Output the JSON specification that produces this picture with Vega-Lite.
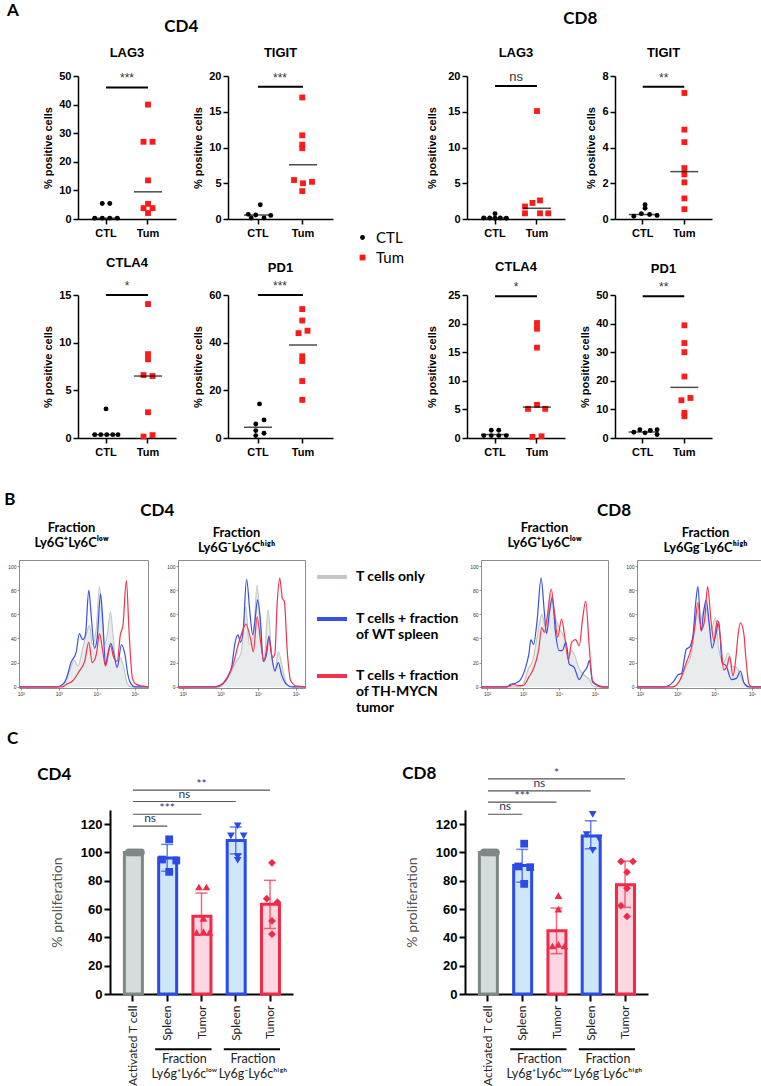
{
"$schema":"https://vega.github.io/schema/vega-lite/v6.json",
"background":"white",
"padding":{"left":4,"top":2,"right":0,"bottom":0},
"config":{
 "view":{"stroke":null},
 "font":"Liberation Sans",
 "title":{"font":"Lato","fontWeight":"bold","color":"black","baseline":"bottom"},
 "axis":{"grid":false,"labelOverlap":false,"domainColor":"black","domainWidth":1.5,"tickColor":"black","tickWidth":1.5,"tickSize":5,"labelColor":"black","labelFont":"Liberation Sans","labelFontWeight":"bold","labelFontSize":11,"titleFont":"Liberation Sans","titleFontWeight":"bold","titleFontSize":11,"titleColor":"black","labelPadding":2,"titlePadding":5},
 "axisQuantitative":{"tickCount":20},
 "legend":{"padding":0}
},
"resolve":{"scale":{"color":"independent","stroke":"independent","fill":"independent","shape":"independent","size":"independent"}},
"columns":1,"spacing":33,
"datasets":{
"dots":[
{"panel":"CD4 LAG3","group":"CTL","value":5.4,"col":-0.5},{"panel":"CD4 LAG3","group":"CTL","value":5.4,"col":0.5},{"panel":"CD4 LAG3","group":"CTL","value":0.3,"col":-1.5},{"panel":"CD4 LAG3","group":"CTL","value":0.3,"col":-0.5},{"panel":"CD4 LAG3","group":"CTL","value":0.3,"col":0.5},{"panel":"CD4 LAG3","group":"CTL","value":0.3,"col":1.5},
{"panel":"CD4 LAG3","group":"Tum","value":40,"col":0},{"panel":"CD4 LAG3","group":"Tum","value":27,"col":-0.6},{"panel":"CD4 LAG3","group":"Tum","value":27,"col":0.6},{"panel":"CD4 LAG3","group":"Tum","value":13.5,"col":0},{"panel":"CD4 LAG3","group":"Tum","value":5.3,"col":0},{"panel":"CD4 LAG3","group":"Tum","value":3.8,"col":-0.6},{"panel":"CD4 LAG3","group":"Tum","value":3.8,"col":0.6},{"panel":"CD4 LAG3","group":"Tum","value":2.1,"col":0},
{"panel":"CD4 TIGIT","group":"CTL","value":2.0,"col":0.4},{"panel":"CD4 TIGIT","group":"CTL","value":0.65,"col":-1.2},{"panel":"CD4 TIGIT","group":"CTL","value":0.55,"col":-0.2},{"panel":"CD4 TIGIT","group":"CTL","value":0.5,"col":1.8},{"panel":"CD4 TIGIT","group":"CTL","value":0.15,"col":-0.8},{"panel":"CD4 TIGIT","group":"CTL","value":0.15,"col":0.9},
{"panel":"CD4 TIGIT","group":"Tum","value":17,"col":0},{"panel":"CD4 TIGIT","group":"Tum","value":11.7,"col":0},{"panel":"CD4 TIGIT","group":"Tum","value":10.4,"col":0},{"panel":"CD4 TIGIT","group":"Tum","value":9.9,"col":0},{"panel":"CD4 TIGIT","group":"Tum","value":5.45,"col":-1.1},{"panel":"CD4 TIGIT","group":"Tum","value":5.0,"col":0.1},{"panel":"CD4 TIGIT","group":"Tum","value":5.2,"col":1.3},{"panel":"CD4 TIGIT","group":"Tum","value":3.9,"col":0},
{"panel":"CD8 LAG3","group":"CTL","value":0.75,"col":0},{"panel":"CD8 LAG3","group":"CTL","value":0.15,"col":-1.5},{"panel":"CD8 LAG3","group":"CTL","value":0.15,"col":-0.7},{"panel":"CD8 LAG3","group":"CTL","value":0.15,"col":0.7},{"panel":"CD8 LAG3","group":"CTL","value":0.1,"col":1.5},{"panel":"CD8 LAG3","group":"CTL","value":0.1,"col":0},
{"panel":"CD8 LAG3","group":"Tum","value":15.1,"col":0},{"panel":"CD8 LAG3","group":"Tum","value":2.6,"col":0.4},{"panel":"CD8 LAG3","group":"Tum","value":2.25,"col":-0.6},{"panel":"CD8 LAG3","group":"Tum","value":1.75,"col":-1.6},{"panel":"CD8 LAG3","group":"Tum","value":0.8,"col":-1.6},{"panel":"CD8 LAG3","group":"Tum","value":0.8,"col":0.4},{"panel":"CD8 LAG3","group":"Tum","value":0.8,"col":1.5},
{"panel":"CD8 TIGIT","group":"CTL","value":0.8,"col":0.3},{"panel":"CD8 TIGIT","group":"CTL","value":0.6,"col":0.3},{"panel":"CD8 TIGIT","group":"CTL","value":0.3,"col":-0.2},{"panel":"CD8 TIGIT","group":"CTL","value":0.25,"col":0.9},{"panel":"CD8 TIGIT","group":"CTL","value":0.15,"col":-1.2},{"panel":"CD8 TIGIT","group":"CTL","value":0.2,"col":1.9},
{"panel":"CD8 TIGIT","group":"Tum","value":7.05,"col":0},{"panel":"CD8 TIGIT","group":"Tum","value":5.0,"col":0},{"panel":"CD8 TIGIT","group":"Tum","value":4.3,"col":0},{"panel":"CD8 TIGIT","group":"Tum","value":2.85,"col":0},{"panel":"CD8 TIGIT","group":"Tum","value":2.5,"col":0},{"panel":"CD8 TIGIT","group":"Tum","value":2.05,"col":0},{"panel":"CD8 TIGIT","group":"Tum","value":1.15,"col":0},{"panel":"CD8 TIGIT","group":"Tum","value":0.55,"col":0},
{"panel":"CD4 CTLA4","group":"CTL","value":3.05,"col":0},{"panel":"CD4 CTLA4","group":"CTL","value":0.35,"col":-1.5},{"panel":"CD4 CTLA4","group":"CTL","value":0.35,"col":-0.7},{"panel":"CD4 CTLA4","group":"CTL","value":0.35,"col":0.1},{"panel":"CD4 CTLA4","group":"CTL","value":0.35,"col":0.9},{"panel":"CD4 CTLA4","group":"CTL","value":0.35,"col":1.6},
{"panel":"CD4 CTLA4","group":"Tum","value":14.05,"col":0},{"panel":"CD4 CTLA4","group":"Tum","value":8.8,"col":0},{"panel":"CD4 CTLA4","group":"Tum","value":8.25,"col":0},{"panel":"CD4 CTLA4","group":"Tum","value":6.6,"col":-0.6},{"panel":"CD4 CTLA4","group":"Tum","value":6.5,"col":0.6},{"panel":"CD4 CTLA4","group":"Tum","value":2.7,"col":0},{"panel":"CD4 CTLA4","group":"Tum","value":0.15,"col":-0.6},{"panel":"CD4 CTLA4","group":"Tum","value":0.3,"col":0.6},
{"panel":"CD4 PD1","group":"CTL","value":14.3,"col":0.3},{"panel":"CD4 PD1","group":"CTL","value":7.6,"col":0.9},{"panel":"CD4 PD1","group":"CTL","value":5.9,"col":-0.2},{"panel":"CD4 PD1","group":"CTL","value":3.1,"col":-0.2},{"panel":"CD4 PD1","group":"CTL","value":2.0,"col":0.9},{"panel":"CD4 PD1","group":"CTL","value":1.0,"col":-0.2},
{"panel":"CD4 PD1","group":"Tum","value":54.1,"col":0},{"panel":"CD4 PD1","group":"Tum","value":49.3,"col":0},{"panel":"CD4 PD1","group":"Tum","value":45,"col":0.7},{"panel":"CD4 PD1","group":"Tum","value":44,"col":-0.5},{"panel":"CD4 PD1","group":"Tum","value":34.3,"col":0},{"panel":"CD4 PD1","group":"Tum","value":32.3,"col":0},{"panel":"CD4 PD1","group":"Tum","value":23.9,"col":0},{"panel":"CD4 PD1","group":"Tum","value":16,"col":0},
{"panel":"CD8 CTLA4","group":"CTL","value":1.35,"col":-0.5},{"panel":"CD8 CTLA4","group":"CTL","value":1.35,"col":0.5},{"panel":"CD8 CTLA4","group":"CTL","value":0.42,"col":-1.5},{"panel":"CD8 CTLA4","group":"CTL","value":0.42,"col":-0.5},{"panel":"CD8 CTLA4","group":"CTL","value":0.42,"col":0.5},{"panel":"CD8 CTLA4","group":"CTL","value":0.42,"col":1.5},
{"panel":"CD8 CTLA4","group":"Tum","value":20.1,"col":0},{"panel":"CD8 CTLA4","group":"Tum","value":19.1,"col":0},{"panel":"CD8 CTLA4","group":"Tum","value":15.8,"col":0},{"panel":"CD8 CTLA4","group":"Tum","value":5.8,"col":0},{"panel":"CD8 CTLA4","group":"Tum","value":5.1,"col":-1.2},{"panel":"CD8 CTLA4","group":"Tum","value":5.1,"col":1.1},{"panel":"CD8 CTLA4","group":"Tum","value":0.2,"col":-0.6},{"panel":"CD8 CTLA4","group":"Tum","value":0.3,"col":0.6},
{"panel":"CD8 PD1","group":"CTL","value":2.0,"col":-1.2},{"panel":"CD8 PD1","group":"CTL","value":2.9,"col":-0.4},{"panel":"CD8 PD1","group":"CTL","value":1.8,"col":0.3},{"panel":"CD8 PD1","group":"CTL","value":2.6,"col":1.0},{"panel":"CD8 PD1","group":"CTL","value":2.9,"col":1.9},{"panel":"CD8 PD1","group":"CTL","value":1.2,"col":1.9},
{"panel":"CD8 PD1","group":"Tum","value":39.4,"col":0},{"panel":"CD8 PD1","group":"Tum","value":33.2,"col":0},{"panel":"CD8 PD1","group":"Tum","value":30,"col":0},{"panel":"CD8 PD1","group":"Tum","value":21.5,"col":0},{"panel":"CD8 PD1","group":"Tum","value":14,"col":0.8},{"panel":"CD8 PD1","group":"Tum","value":13.2,"col":-0.4},{"panel":"CD8 PD1","group":"Tum","value":8.8,"col":0},{"panel":"CD8 PD1","group":"Tum","value":7.6,"col":0}
],
"med":[
{"panel":"CD4 LAG3","group":"CTL","value":0.3},{"panel":"CD4 LAG3","group":"Tum","value":9.5},
{"panel":"CD4 TIGIT","group":"CTL","value":0.55},{"panel":"CD4 TIGIT","group":"Tum","value":7.6},
{"panel":"CD8 LAG3","group":"CTL","value":0.15},{"panel":"CD8 LAG3","group":"Tum","value":1.5},
{"panel":"CD8 TIGIT","group":"CTL","value":0.25},{"panel":"CD8 TIGIT","group":"Tum","value":2.65},
{"panel":"CD4 CTLA4","group":"CTL","value":0.35},{"panel":"CD4 CTLA4","group":"Tum","value":6.5},
{"panel":"CD4 PD1","group":"CTL","value":4.5},{"panel":"CD4 PD1","group":"Tum","value":39},
{"panel":"CD8 CTLA4","group":"CTL","value":0.6},{"panel":"CD8 CTLA4","group":"Tum","value":5.4},
{"panel":"CD8 PD1","group":"CTL","value":2.1},{"panel":"CD8 PD1","group":"Tum","value":17.7}
],
"asig":[
{"panel":"CD4 LAG3","label":"***","from":"CTL","to":"Tum","value":46},{"panel":"CD4 TIGIT","label":"***","from":"CTL","to":"Tum","value":18.5},
{"panel":"CD8 LAG3","label":"ns","from":"CTL","to":"Tum","value":18.6},{"panel":"CD8 TIGIT","label":"**","from":"CTL","to":"Tum","value":7.4},
{"panel":"CD4 CTLA4","label":"*","from":"CTL","to":"Tum","value":15},{"panel":"CD4 PD1","label":"***","from":"CTL","to":"Tum","value":60},
{"panel":"CD8 CTLA4","label":"*","from":"CTL","to":"Tum","value":24.8},{"panel":"CD8 PD1","label":"**","from":"CTL","to":"Tum","value":49.6}
],
"hist":[
{"panel":"CD4 low","series":"only","x":[1.95,3.0,3.1,3.28,3.41,3.5,3.63,3.72,3.81,3.88,3.99,4.07,4.15,4.21,4.29,4.36,4.43,4.51,4.62,4.71,4.8,4.9,5.35],"y":[0,0,1,13,22,17,32,43,51,35,49,83,54,35,46,62,43,16,24,16,3,0,0]},
{"panel":"CD4 low","series":"WT","x":[1.95,2.95,3.1,3.19,3.32,3.46,3.54,3.63,3.7,3.79,3.85,3.94,4.01,4.1,4.16,4.23,4.29,4.37,4.45,4.54,4.65,4.74,4.82,4.91,5.0,5.35],"y":[0,0,2,6,20,29,44,39,43,80,60,32,40,77,54,18,27,36,27,16,35,27,10,2,0,0]},
{"panel":"CD4 low","series":"TH","x":[1.95,3.1,3.2,3.37,3.54,3.68,3.79,3.88,3.99,4.07,4.16,4.23,4.36,4.45,4.54,4.62,4.69,4.78,4.85,4.94,5.04,5.22,5.35],"y":[0,0,2,5,13,21,37,20,27,44,29,17,34,24,21,43,51,88,46,7,2,0.5,0]},
{"panel":"CD4 high","series":"only","x":[1.87,2.98,3.24,3.42,3.55,3.67,3.76,3.87,3.97,4.06,4.15,4.26,4.35,4.44,4.53,4.64,4.75,4.85,5.24],"y":[0,0,10,21,29,66,35,42,84,49,21,64,27,14,29,16,3,0,0]},
{"panel":"CD4 high","series":"WT","x":[1.87,2.84,3.07,3.29,3.38,3.46,3.53,3.6,3.69,3.78,3.85,3.91,3.98,4.06,4.13,4.22,4.28,4.35,4.44,4.53,4.62,4.75,4.9,5.24],"y":[0,0,3,16,36,43,37,47,89,61,43,54,72,54,21,27,42,27,13,20,10,2,0,0]},
{"panel":"CD4 high","series":"TH","x":[1.87,2.89,3.16,3.33,3.46,3.58,3.67,3.8,3.87,3.97,4.06,4.15,4.28,4.38,4.44,4.5,4.57,4.64,4.69,4.77,4.86,5.02,5.24],"y":[0,0,7,18,34,46,52,39,29,58,38,21,40,24,27,68,90,73,71,29,5,0.5,0]},
{"panel":"CD8 low","series":"only","x":[1.83,2.9,3.0,3.16,3.25,3.39,3.52,3.65,3.76,3.87,4.0,4.14,4.28,4.35,4.42,4.56,4.69,4.84,4.93,5.0,5.36],"y":[0,0,2,16,20,41,60,47,77,60,49,41,27,30,27,15,10,6,1,0,0]},
{"panel":"CD8 low","series":"WT","x":[1.83,2.55,2.65,2.79,2.93,3.06,3.16,3.22,3.29,3.39,3.5,3.59,3.65,3.74,3.81,3.9,4.0,4.09,4.19,4.28,4.42,4.56,4.68,4.79,4.84,4.93,5.07,5.2,5.36],"y":[0,0,2,3,6,15,27,39,35,55,90,62,44,63,74,45,30,30,37,19,16,6,12,17,22,4,1,0,0]},
{"panel":"CD8 low","series":"TH","x":[1.83,2.55,2.65,2.74,2.85,3.0,3.16,3.29,3.43,3.52,3.59,3.68,3.78,3.87,3.96,4.07,4.16,4.26,4.35,4.46,4.56,4.65,4.74,4.84,4.93,5.1,5.25,5.36],"y":[0,0,1,2,1,1,8,15,30,49,45,60,81,62,41,56,41,22,37,39,34,55,71,33,5,1,0,0]},
{"panel":"CD8 high","series":"only","x":[1.92,2.89,3.06,3.24,3.38,3.53,3.6,3.73,3.81,3.9,4.02,4.11,4.24,4.36,4.47,4.6,4.73,4.87,5.32],"y":[0,0,5,17,28,63,53,66,61,47,57,31,20,28,17,16,6,0,0]},
{"panel":"CD8 high","series":"WT","x":[1.92,2.66,2.89,3.02,3.11,3.24,3.33,3.42,3.49,3.55,3.64,3.7,3.77,3.86,3.93,4.02,4.11,4.2,4.31,4.45,4.58,4.69,4.79,4.92,5.32],"y":[0,0,4,10,11,31,33,43,69,83,46,61,72,50,32,42,54,20,17,6,7,13,3,0,0]},
{"panel":"CD8 high","series":"TH","x":[1.92,2.89,3.06,3.24,3.38,3.47,3.55,3.64,3.73,3.81,3.9,3.98,4.07,4.16,4.24,4.33,4.4,4.49,4.56,4.63,4.69,4.78,4.84,4.92,5.0,5.32],"y":[0,0,5,20,33,50,70,47,55,83,55,38,55,38,14,17,25,9,22,44,53,44,22,2,0,0]}
],
"bars":[
{"chart":"CD4","cat":"Activated T cell","kind":"Activated","mean":100},
{"chart":"CD4","cat":"Spleen | low","kind":"Spleen","mean":96,"lo":86.7,"hi":105.7},
{"chart":"CD4","cat":"Tumor | low","kind":"Tumor","mean":55,"lo":41.5,"hi":71.3},
{"chart":"CD4","cat":"Spleen | high","kind":"Spleen","mean":108.5,"lo":99,"hi":118},
{"chart":"CD4","cat":"Tumor | high","kind":"Tumor","mean":63.4,"lo":46.3,"hi":80.3},
{"chart":"CD8","cat":"Activated T cell","kind":"Activated","mean":100},
{"chart":"CD8","cat":"Spleen | low","kind":"Spleen","mean":90.8,"lo":79,"hi":102.2},
{"chart":"CD8","cat":"Tumor | low","kind":"Tumor","mean":44.6,"lo":28.5,"hi":60.7},
{"chart":"CD8","cat":"Spleen | high","kind":"Spleen","mean":111.7,"lo":102.7,"hi":122.4},
{"chart":"CD8","cat":"Tumor | high","kind":"Tumor","mean":77.1,"lo":61.2,"hi":93.9}
],
"bpts":[
{"chart":"CD4","cat":"Activated T cell","kind":"Activated","value":100,"col":-0.8},{"chart":"CD4","cat":"Activated T cell","kind":"Activated","value":100,"col":-0.4},{"chart":"CD4","cat":"Activated T cell","kind":"Activated","value":100,"col":0},{"chart":"CD4","cat":"Activated T cell","kind":"Activated","value":100,"col":0.4},{"chart":"CD4","cat":"Activated T cell","kind":"Activated","value":100,"col":0.8},
{"chart":"CD4","cat":"Spleen | low","kind":"Spleen","value":109.3,"col":0},{"chart":"CD4","cat":"Spleen | low","kind":"Spleen","value":95,"col":-0.95},{"chart":"CD4","cat":"Spleen | low","kind":"Spleen","value":94.3,"col":0.95},{"chart":"CD4","cat":"Spleen | low","kind":"Spleen","value":86.3,"col":0},
{"chart":"CD4","cat":"Tumor | low","kind":"Tumor","value":75.6,"col":-0.6},{"chart":"CD4","cat":"Tumor | low","kind":"Tumor","value":75.6,"col":0.4},{"chart":"CD4","cat":"Tumor | low","kind":"Tumor","value":53.5,"col":0},{"chart":"CD4","cat":"Tumor | low","kind":"Tumor","value":43.5,"col":-0.9},{"chart":"CD4","cat":"Tumor | low","kind":"Tumor","value":44,"col":0},{"chart":"CD4","cat":"Tumor | low","kind":"Tumor","value":43.5,"col":0.8},
{"chart":"CD4","cat":"Spleen | high","kind":"Spleen","value":118.8,"col":0},{"chart":"CD4","cat":"Spleen | high","kind":"Spleen","value":111.7,"col":-0.9},{"chart":"CD4","cat":"Spleen | high","kind":"Spleen","value":111.7,"col":0.8},{"chart":"CD4","cat":"Spleen | high","kind":"Spleen","value":97,"col":0},{"chart":"CD4","cat":"Spleen | high","kind":"Spleen","value":94.5,"col":0},
{"chart":"CD4","cat":"Tumor | high","kind":"Tumor","value":92.7,"col":0},{"chart":"CD4","cat":"Tumor | high","kind":"Tumor","value":67.3,"col":-0.7},{"chart":"CD4","cat":"Tumor | high","kind":"Tumor","value":64.9,"col":0.73},{"chart":"CD4","cat":"Tumor | high","kind":"Tumor","value":51.6,"col":0},{"chart":"CD4","cat":"Tumor | high","kind":"Tumor","value":42.3,"col":0},
{"chart":"CD8","cat":"Activated T cell","kind":"Activated","value":100,"col":-0.8},{"chart":"CD8","cat":"Activated T cell","kind":"Activated","value":100,"col":-0.4},{"chart":"CD8","cat":"Activated T cell","kind":"Activated","value":100,"col":0},{"chart":"CD8","cat":"Activated T cell","kind":"Activated","value":100,"col":0.4},{"chart":"CD8","cat":"Activated T cell","kind":"Activated","value":100,"col":0.8},
{"chart":"CD8","cat":"Spleen | low","kind":"Spleen","value":106.2,"col":0},{"chart":"CD8","cat":"Spleen | low","kind":"Spleen","value":90.1,"col":-0.8},{"chart":"CD8","cat":"Spleen | low","kind":"Spleen","value":89.6,"col":0.8},{"chart":"CD8","cat":"Spleen | low","kind":"Spleen","value":77.8,"col":0},
{"chart":"CD8","cat":"Tumor | low","kind":"Tumor","value":69.5,"col":0},{"chart":"CD8","cat":"Tumor | low","kind":"Tumor","value":60,"col":0},{"chart":"CD8","cat":"Tumor | low","kind":"Tumor","value":33.9,"col":-0.8},{"chart":"CD8","cat":"Tumor | low","kind":"Tumor","value":35.1,"col":0},{"chart":"CD8","cat":"Tumor | low","kind":"Tumor","value":33.9,"col":0.8},
{"chart":"CD8","cat":"Spleen | high","kind":"Spleen","value":126.9,"col":0},{"chart":"CD8","cat":"Spleen | high","kind":"Spleen","value":112.6,"col":-0.8},{"chart":"CD8","cat":"Spleen | high","kind":"Spleen","value":110.2,"col":0.8},{"chart":"CD8","cat":"Spleen | high","kind":"Spleen","value":101.5,"col":0},
{"chart":"CD8","cat":"Tumor | high","kind":"Tumor","value":93.7,"col":-0.8},{"chart":"CD8","cat":"Tumor | high","kind":"Tumor","value":93.7,"col":0.8},{"chart":"CD8","cat":"Tumor | high","kind":"Tumor","value":86.1,"col":0},{"chart":"CD8","cat":"Tumor | high","kind":"Tumor","value":74.7,"col":0},{"chart":"CD8","cat":"Tumor | high","kind":"Tumor","value":62.4,"col":-0.8},{"chart":"CD8","cat":"Tumor | high","kind":"Tumor","value":54.8,"col":0}
],
"bsig":[
{"chart":"CD4","label":"ns","from":"Activated T cell","to":"Spleen | low","mid":"Activated T cell","pos":"gap","y":118.6},
{"chart":"CD4","label":"***","from":"Activated T cell","to":"Tumor | low","mid":"Spleen | low","pos":"center","y":127},
{"chart":"CD4","label":"ns","from":"Activated T cell","to":"Spleen | high","mid":"Spleen | low","pos":"gap","y":136},
{"chart":"CD4","label":"**","from":"Activated T cell","to":"Tumor | high","mid":"Tumor | low","pos":"center","y":144},
{"chart":"CD8","label":"ns","from":"Activated T cell","to":"Spleen | low","mid":"Activated T cell","pos":"gap","y":127},
{"chart":"CD8","label":"***","from":"Activated T cell","to":"Tumor | low","mid":"Spleen | low","pos":"center","y":135.6},
{"chart":"CD8","label":"ns","from":"Activated T cell","to":"Spleen | high","mid":"Spleen | low","pos":"gap","y":143.5},
{"chart":"CD8","label":"*","from":"Activated T cell","to":"Tumor | high","mid":"Tumor | low","pos":"center","y":152}
],
"grp":[
{"chart":"CD4","from":"Spleen | low","to":"Tumor | low","text":"Fraction\nLy6g⁺Ly6cˡᵒʷ"},
{"chart":"CD4","from":"Spleen | high","to":"Tumor | high","text":"Fraction\nLy6g⁻Ly6cʰⁱᵍʰ"},
{"chart":"CD8","from":"Spleen | low","to":"Tumor | low","text":"Fraction\nLy6g⁺Ly6cˡᵒʷ"},
{"chart":"CD8","from":"Spleen | high","to":"Tumor | high","text":"Fraction\nLy6g⁻Ly6cʰⁱᵍʰ"}
]
},
"concat":[
{
 "title":{"text":"A","fontSize":17,"anchor":"start","frame":"bounds","dx":-12,"offset":-10},
 "spacing":22,
 "hconcat":[
  {"width":1,"height":1,"data":{"values":[]},"mark":"point"},
  {
   "title":{"text":"CD4","fontSize":17,"anchor":"middle","frame":"bounds","dx":-42,"offset":11},
   "columns":2,"bounds":"flush","spacing":{"row":76,"column":52},
   "resolve":{"legend":{"color":"independent","shape":"independent","size":"independent"}},
   "concat":[
    {"width":98,"height":143,"title":{"text":"LAG3","font":"Liberation Sans","fontSize":13,"frame":"group","anchor":"middle","offset":10},
     "layer":[
      {"data":{"name":"dots"},"transform":[{"filter":"datum.panel == 'CD4 LAG3'"}],"mark":{"type":"point","filled":true,"opacity":1},
       "encoding":{"x":{"field":"group","type":"nominal","title":null,"scale":{"type":"band","domain":["CTL","Tum"],"paddingInner":0.5,"paddingOuter":0.417},"axis":{"labelAngle":0,"labelPadding":3}},
        "xOffset":{"field":"col","type":"quantitative","scale":{"domain":[-3,3],"range":[-12,33]}},
        "y":{"field":"value","type":"quantitative","title":"% positive cells","scale":{"domain":[0,50],"nice":false},"axis":{"values":[0,10,20,30,40,50]}},
        "color":{"field":"group","type":"nominal","scale":{"domain":["CTL","Tum"],"range":["#000000","#ff1a1a"]},"legend":null},
        "shape":{"field":"group","type":"nominal","scale":{"domain":["CTL","Tum"],"range":["circle","square"]},"legend":null},
        "size":{"field":"group","type":"nominal","scale":{"domain":["CTL","Tum"],"range":[24,34]},"legend":null}}},
      {"data":{"name":"med"},"transform":[{"filter":"datum.panel == 'CD4 LAG3'"}],"mark":{"type":"tick","color":"black","size":28,"thickness":1.5},
       "encoding":{"x":{"field":"group","type":"nominal","title":null},"y":{"field":"value","type":"quantitative","title":"% positive cells"}}},
      {"data":{"name":"asig"},"transform":[{"filter":"datum.panel == 'CD4 LAG3'"}],"mark":{"type":"rule","color":"black","strokeWidth":2},
       "encoding":{"x":{"field":"from","type":"nominal","title":null},"x2":{"field":"to"},"y":{"field":"value","type":"quantitative","title":"% positive cells"}}},
      {"data":{"name":"asig"},"transform":[{"filter":"datum.panel == 'CD4 LAG3'"}],"mark":{"type":"text","dx":21,"dy":-2,"baseline":"bottom","font":"Liberation Sans","fontSize":12,"color":"#333"},
       "encoding":{"x":{"field":"from","type":"nominal","title":null},"y":{"field":"value","type":"quantitative","title":"% positive cells"},"text":{"field":"label","type":"nominal"}}}
     ]},
    {"width":105,"height":143,"title":{"text":"TIGIT","font":"Liberation Sans","fontSize":13,"frame":"group","anchor":"middle","offset":10},
     "layer":[
      {"data":{"name":"dots"},"transform":[{"filter":"datum.panel == 'CD4 TIGIT'"}],"mark":{"type":"point","filled":true,"opacity":1},
       "encoding":{"x":{"field":"group","type":"nominal","title":null,"scale":{"type":"band","domain":["CTL","Tum"],"paddingInner":0.5,"paddingOuter":0.417},"axis":{"labelAngle":0,"labelPadding":3}},
        "xOffset":{"field":"col","type":"quantitative","scale":{"domain":[-3,3],"range":[-11.25,33.75]}},
        "y":{"field":"value","type":"quantitative","title":"% positive cells","scale":{"domain":[0,20],"nice":false},"axis":{"values":[0,5,10,15,20]}},
        "color":{"field":"group","type":"nominal","scale":{"domain":["CTL","Tum"],"range":["#000000","#ff1a1a"]},"legend":{"orient":"none","legendX":127,"legendY":154,"title":null,"padding":0,"labelFont":"Lato","labelFontSize":15,"labelFontWeight":"normal","labelColor":"black","symbolSize":40,"rowPadding":4,"labelOffset":6}},
        "shape":{"field":"group","type":"nominal","scale":{"domain":["CTL","Tum"],"range":["circle","square"]},"legend":{"orient":"none","legendX":127,"legendY":154,"title":null,"padding":0,"labelFont":"Lato","labelFontSize":15,"labelFontWeight":"normal","labelColor":"black","symbolSize":40,"rowPadding":4,"labelOffset":6}},
        "size":{"field":"group","type":"nominal","scale":{"domain":["CTL","Tum"],"range":[24,34]},"legend":null}}},
      {"data":{"name":"med"},"transform":[{"filter":"datum.panel == 'CD4 TIGIT'"}],"mark":{"type":"tick","color":"black","size":28,"thickness":1.5},
       "encoding":{"x":{"field":"group","type":"nominal","title":null},"y":{"field":"value","type":"quantitative","title":"% positive cells"}}},
      {"data":{"name":"asig"},"transform":[{"filter":"datum.panel == 'CD4 TIGIT'"}],"mark":{"type":"rule","color":"black","strokeWidth":2},
       "encoding":{"x":{"field":"from","type":"nominal","title":null},"x2":{"field":"to"},"y":{"field":"value","type":"quantitative","title":"% positive cells"}}},
      {"data":{"name":"asig"},"transform":[{"filter":"datum.panel == 'CD4 TIGIT'"}],"mark":{"type":"text","dx":22,"dy":-2,"baseline":"bottom","font":"Liberation Sans","fontSize":12,"color":"#333"},
       "encoding":{"x":{"field":"from","type":"nominal","title":null},"y":{"field":"value","type":"quantitative","title":"% positive cells"},"text":{"field":"label","type":"nominal"}}}
     ]},
    {"width":98,"height":143,"title":{"text":"CTLA4","font":"Liberation Sans","fontSize":13,"frame":"group","anchor":"middle","offset":10},
     "layer":[
      {"data":{"name":"dots"},"transform":[{"filter":"datum.panel == 'CD4 CTLA4'"}],"mark":{"type":"point","filled":true,"opacity":1},
       "encoding":{"x":{"field":"group","type":"nominal","title":null,"scale":{"type":"band","domain":["CTL","Tum"],"paddingInner":0.5,"paddingOuter":0.417},"axis":{"labelAngle":0,"labelPadding":3}},
        "xOffset":{"field":"col","type":"quantitative","scale":{"domain":[-3,3],"range":[-12,33]}},
        "y":{"field":"value","type":"quantitative","title":"% positive cells","scale":{"domain":[0,15],"nice":false},"axis":{"values":[0,5,10,15]}},
        "color":{"field":"group","type":"nominal","scale":{"domain":["CTL","Tum"],"range":["#000000","#ff1a1a"]},"legend":null},
        "shape":{"field":"group","type":"nominal","scale":{"domain":["CTL","Tum"],"range":["circle","square"]},"legend":null},
        "size":{"field":"group","type":"nominal","scale":{"domain":["CTL","Tum"],"range":[24,34]},"legend":null}}},
      {"data":{"name":"med"},"transform":[{"filter":"datum.panel == 'CD4 CTLA4'"}],"mark":{"type":"tick","color":"black","size":28,"thickness":1.5},
       "encoding":{"x":{"field":"group","type":"nominal","title":null},"y":{"field":"value","type":"quantitative","title":"% positive cells"}}},
      {"data":{"name":"asig"},"transform":[{"filter":"datum.panel == 'CD4 CTLA4'"}],"mark":{"type":"rule","color":"black","strokeWidth":2},
       "encoding":{"x":{"field":"from","type":"nominal","title":null},"x2":{"field":"to"},"y":{"field":"value","type":"quantitative","title":"% positive cells"}}},
      {"data":{"name":"asig"},"transform":[{"filter":"datum.panel == 'CD4 CTLA4'"}],"mark":{"type":"text","dx":21,"dy":-2,"baseline":"bottom","font":"Liberation Sans","fontSize":12,"color":"#333"},
       "encoding":{"x":{"field":"from","type":"nominal","title":null},"y":{"field":"value","type":"quantitative","title":"% positive cells"},"text":{"field":"label","type":"nominal"}}}
     ]},
    {"width":105,"height":143,"title":{"text":"PD1","font":"Liberation Sans","fontSize":13,"frame":"group","anchor":"middle","offset":5},
     "layer":[
      {"data":{"name":"dots"},"transform":[{"filter":"datum.panel == 'CD4 PD1'"}],"mark":{"type":"point","filled":true,"opacity":1},
       "encoding":{"x":{"field":"group","type":"nominal","title":null,"scale":{"type":"band","domain":["CTL","Tum"],"paddingInner":0.5,"paddingOuter":0.417},"axis":{"labelAngle":0,"labelPadding":3}},
        "xOffset":{"field":"col","type":"quantitative","scale":{"domain":[-3,3],"range":[-11.25,33.75]}},
        "y":{"field":"value","type":"quantitative","title":"% positive cells","scale":{"domain":[0,60],"nice":false},"axis":{"values":[0,20,40,60]}},
        "color":{"field":"group","type":"nominal","scale":{"domain":["CTL","Tum"],"range":["#000000","#ff1a1a"]},"legend":null},
        "shape":{"field":"group","type":"nominal","scale":{"domain":["CTL","Tum"],"range":["circle","square"]},"legend":null},
        "size":{"field":"group","type":"nominal","scale":{"domain":["CTL","Tum"],"range":[24,34]},"legend":null}}},
      {"data":{"name":"med"},"transform":[{"filter":"datum.panel == 'CD4 PD1'"}],"mark":{"type":"tick","color":"black","size":28,"thickness":1.5},
       "encoding":{"x":{"field":"group","type":"nominal","title":null},"y":{"field":"value","type":"quantitative","title":"% positive cells"}}},
      {"data":{"name":"asig"},"transform":[{"filter":"datum.panel == 'CD4 PD1'"}],"mark":{"type":"rule","color":"black","strokeWidth":2},
       "encoding":{"x":{"field":"from","type":"nominal","title":null},"x2":{"field":"to"},"y":{"field":"value","type":"quantitative","title":"% positive cells"}}},
      {"data":{"name":"asig"},"transform":[{"filter":"datum.panel == 'CD4 PD1'"}],"mark":{"type":"text","dx":22,"dy":-2,"baseline":"bottom","font":"Liberation Sans","fontSize":12,"color":"#333"},
       "encoding":{"x":{"field":"from","type":"nominal","title":null},"y":{"field":"value","type":"quantitative","title":"% positive cells"},"text":{"field":"label","type":"nominal"}}}
     ]}
   ]
  },
  {
   "title":{"text":"CD8","fontSize":17,"anchor":"middle","frame":"bounds","dx":11,"offset":19},
   "columns":2,"bounds":"flush","spacing":{"row":76,"column":50},
   "concat":[
    {"width":98,"height":143,"title":{"text":"LAG3","font":"Liberation Sans","fontSize":13,"frame":"group","anchor":"middle","offset":10},
     "layer":[
      {"data":{"name":"dots"},"transform":[{"filter":"datum.panel == 'CD8 LAG3'"}],"mark":{"type":"point","filled":true,"opacity":1},
       "encoding":{"x":{"field":"group","type":"nominal","title":null,"scale":{"type":"band","domain":["CTL","Tum"],"paddingInner":0.5,"paddingOuter":0.417},"axis":{"labelAngle":0,"labelPadding":3}},
        "xOffset":{"field":"col","type":"quantitative","scale":{"domain":[-3,3],"range":[-12,33]}},
        "y":{"field":"value","type":"quantitative","title":"% positive cells","scale":{"domain":[0,20],"nice":false},"axis":{"values":[0,5,10,15,20],"titlePadding":10}},
        "color":{"field":"group","type":"nominal","scale":{"domain":["CTL","Tum"],"range":["#000000","#ff1a1a"]},"legend":null},
        "shape":{"field":"group","type":"nominal","scale":{"domain":["CTL","Tum"],"range":["circle","square"]},"legend":null},
        "size":{"field":"group","type":"nominal","scale":{"domain":["CTL","Tum"],"range":[24,34]},"legend":null}}},
      {"data":{"name":"med"},"transform":[{"filter":"datum.panel == 'CD8 LAG3'"}],"mark":{"type":"tick","color":"black","size":28,"thickness":1.5},
       "encoding":{"x":{"field":"group","type":"nominal","title":null},"y":{"field":"value","type":"quantitative","title":"% positive cells"}}},
      {"data":{"name":"asig"},"transform":[{"filter":"datum.panel == 'CD8 LAG3'"}],"mark":{"type":"rule","color":"black","strokeWidth":2},
       "encoding":{"x":{"field":"from","type":"nominal","title":null},"x2":{"field":"to"},"y":{"field":"value","type":"quantitative","title":"% positive cells"}}},
      {"data":{"name":"asig"},"transform":[{"filter":"datum.panel == 'CD8 LAG3'"}],"mark":{"type":"text","dx":21,"dy":-2,"baseline":"bottom","font":"Liberation Sans","fontSize":13,"color":"#333"},
       "encoding":{"x":{"field":"from","type":"nominal","title":null},"y":{"field":"value","type":"quantitative","title":"% positive cells"},"text":{"field":"label","type":"nominal"}}}
     ]},
    {"width":97,"height":143,"title":{"text":"TIGIT","font":"Liberation Sans","fontSize":13,"frame":"group","anchor":"middle","offset":10},
     "layer":[
      {"data":{"name":"dots"},"transform":[{"filter":"datum.panel == 'CD8 TIGIT'"}],"mark":{"type":"point","filled":true,"opacity":1},
       "encoding":{"x":{"field":"group","type":"nominal","title":null,"scale":{"type":"band","domain":["CTL","Tum"],"paddingInner":0.5,"paddingOuter":0.417},"axis":{"labelAngle":0,"labelPadding":3}},
        "xOffset":{"field":"col","type":"quantitative","scale":{"domain":[-3,3],"range":[-12.1,32.9]}},
        "y":{"field":"value","type":"quantitative","title":"% positive cells","scale":{"domain":[0,8],"nice":false},"axis":{"values":[0,2,4,6,8],"format":"d"}},
        "color":{"field":"group","type":"nominal","scale":{"domain":["CTL","Tum"],"range":["#000000","#ff1a1a"]},"legend":null},
        "shape":{"field":"group","type":"nominal","scale":{"domain":["CTL","Tum"],"range":["circle","square"]},"legend":null},
        "size":{"field":"group","type":"nominal","scale":{"domain":["CTL","Tum"],"range":[24,34]},"legend":null}}},
      {"data":{"name":"med"},"transform":[{"filter":"datum.panel == 'CD8 TIGIT'"}],"mark":{"type":"tick","color":"black","size":28,"thickness":1.5},
       "encoding":{"x":{"field":"group","type":"nominal","title":null},"y":{"field":"value","type":"quantitative","title":"% positive cells"}}},
      {"data":{"name":"asig"},"transform":[{"filter":"datum.panel == 'CD8 TIGIT'"}],"mark":{"type":"rule","color":"black","strokeWidth":2},
       "encoding":{"x":{"field":"from","type":"nominal","title":null},"x2":{"field":"to"},"y":{"field":"value","type":"quantitative","title":"% positive cells"}}},
      {"data":{"name":"asig"},"transform":[{"filter":"datum.panel == 'CD8 TIGIT'"}],"mark":{"type":"text","dx":21,"dy":-2,"baseline":"bottom","font":"Liberation Sans","fontSize":12,"color":"#333"},
       "encoding":{"x":{"field":"from","type":"nominal","title":null},"y":{"field":"value","type":"quantitative","title":"% positive cells"},"text":{"field":"label","type":"nominal"}}}
     ]},
    {"width":98,"height":143,"title":{"text":"CTLA4","font":"Liberation Sans","fontSize":13,"frame":"group","anchor":"middle","offset":7},
     "layer":[
      {"data":{"name":"dots"},"transform":[{"filter":"datum.panel == 'CD8 CTLA4'"}],"mark":{"type":"point","filled":true,"opacity":1},
       "encoding":{"x":{"field":"group","type":"nominal","title":null,"scale":{"type":"band","domain":["CTL","Tum"],"paddingInner":0.5,"paddingOuter":0.417},"axis":{"labelAngle":0,"labelPadding":3}},
        "xOffset":{"field":"col","type":"quantitative","scale":{"domain":[-3,3],"range":[-12,33]}},
        "y":{"field":"value","type":"quantitative","title":"% positive cells","scale":{"domain":[0,25],"nice":false},"axis":{"values":[0,5,10,15,20,25],"titlePadding":10}},
        "color":{"field":"group","type":"nominal","scale":{"domain":["CTL","Tum"],"range":["#000000","#ff1a1a"]},"legend":null},
        "shape":{"field":"group","type":"nominal","scale":{"domain":["CTL","Tum"],"range":["circle","square"]},"legend":null},
        "size":{"field":"group","type":"nominal","scale":{"domain":["CTL","Tum"],"range":[24,34]},"legend":null}}},
      {"data":{"name":"med"},"transform":[{"filter":"datum.panel == 'CD8 CTLA4'"}],"mark":{"type":"tick","color":"black","size":28,"thickness":1.5},
       "encoding":{"x":{"field":"group","type":"nominal","title":null},"y":{"field":"value","type":"quantitative","title":"% positive cells"}}},
      {"data":{"name":"asig"},"transform":[{"filter":"datum.panel == 'CD8 CTLA4'"}],"mark":{"type":"rule","color":"black","strokeWidth":2},
       "encoding":{"x":{"field":"from","type":"nominal","title":null},"x2":{"field":"to"},"y":{"field":"value","type":"quantitative","title":"% positive cells"}}},
      {"data":{"name":"asig"},"transform":[{"filter":"datum.panel == 'CD8 CTLA4'"}],"mark":{"type":"text","dx":21,"dy":-2,"baseline":"bottom","font":"Liberation Sans","fontSize":12,"color":"#333"},
       "encoding":{"x":{"field":"from","type":"nominal","title":null},"y":{"field":"value","type":"quantitative","title":"% positive cells"},"text":{"field":"label","type":"nominal"}}}
     ]},
    {"width":97,"height":143,"title":{"text":"PD1","font":"Liberation Sans","fontSize":13,"frame":"group","anchor":"middle","offset":5},
     "layer":[
      {"data":{"name":"dots"},"transform":[{"filter":"datum.panel == 'CD8 PD1'"}],"mark":{"type":"point","filled":true,"opacity":1},
       "encoding":{"x":{"field":"group","type":"nominal","title":null,"scale":{"type":"band","domain":["CTL","Tum"],"paddingInner":0.5,"paddingOuter":0.417},"axis":{"labelAngle":0,"labelPadding":3}},
        "xOffset":{"field":"col","type":"quantitative","scale":{"domain":[-3,3],"range":[-12.1,32.9]}},
        "y":{"field":"value","type":"quantitative","title":"% positive cells","scale":{"domain":[0,50],"nice":false},"axis":{"values":[0,10,20,30,40,50]}},
        "color":{"field":"group","type":"nominal","scale":{"domain":["CTL","Tum"],"range":["#000000","#ff1a1a"]},"legend":null},
        "shape":{"field":"group","type":"nominal","scale":{"domain":["CTL","Tum"],"range":["circle","square"]},"legend":null},
        "size":{"field":"group","type":"nominal","scale":{"domain":["CTL","Tum"],"range":[24,34]},"legend":null}}},
      {"data":{"name":"med"},"transform":[{"filter":"datum.panel == 'CD8 PD1'"}],"mark":{"type":"tick","color":"black","size":28,"thickness":1.5},
       "encoding":{"x":{"field":"group","type":"nominal","title":null},"y":{"field":"value","type":"quantitative","title":"% positive cells"}}},
      {"data":{"name":"asig"},"transform":[{"filter":"datum.panel == 'CD8 PD1'"}],"mark":{"type":"rule","color":"black","strokeWidth":2},
       "encoding":{"x":{"field":"from","type":"nominal","title":null},"x2":{"field":"to"},"y":{"field":"value","type":"quantitative","title":"% positive cells"}}},
      {"data":{"name":"asig"},"transform":[{"filter":"datum.panel == 'CD8 PD1'"}],"mark":{"type":"text","dx":21,"dy":-2,"baseline":"bottom","font":"Liberation Sans","fontSize":12,"color":"#333"},
       "encoding":{"x":{"field":"from","type":"nominal","title":null},"y":{"field":"value","type":"quantitative","title":"% positive cells"},"text":{"field":"label","type":"nominal"}}}
     ]}
   ]
  }
 ]
},
{
 "spacing":13,
 "resolve":{"scale":{"color":"independent","stroke":"independent","fill":"independent","shape":"independent","size":"independent"}},
 "vconcat":[
 {
  "title":{"text":"B","fontSize":17,"anchor":"start","frame":"bounds","dx":-3,"offset":-7},
  "spacing":9,
  "hconcat":[
   {
    "title":{"text":"CD4","fontSize":17,"anchor":"middle","frame":"bounds","dx":-76,"offset":2},
    "bounds":"flush","spacing":30,
    "resolve":{"legend":{"stroke":"independent"}},
    "hconcat":[
     {"width":129,"height":128,"view":{"stroke":"#8c8c8c","strokeWidth":1},
      "title":{"text":["Fraction","Ly6G⁺Ly6Cˡᵒʷ"],"font":"Lato","fontSize":13,"lineHeight":15,"frame":"group","anchor":"middle","dx":-12,"offset":10},
      "data":{"name":"hist"},
      "transform":[{"filter":"datum.panel == 'CD4 low'"},{"flatten":["x","y"]}],
      "encoding":{
       "x":{"field":"x","type":"quantitative","scale":{"domain":[1.95,5.35],"nice":false,"zero":false},"axis":{"values":[2,3,4,5],"labelExpr":"'10' + (datum.value == 2 ? '²' : datum.value == 3 ? '³' : datum.value == 4 ? '⁴' : '⁵')","title":null,"domain":false,"labelFontWeight":"normal","labelFontSize":5,"labelColor":"#333","tickSize":2,"tickWidth":0.6,"tickColor":"#555","labelPadding":1}},
       "y":{"field":"y","type":"quantitative","scale":{"domain":[-1,105],"nice":false,"zero":false},"axis":{"values":[0,20,40,60,80,100],"title":null,"domain":false,"labelFontWeight":"normal","labelFontSize":5,"labelColor":"#333","tickSize":2,"tickWidth":0.6,"tickColor":"#555","labelPadding":1}}
      },
      "layer":[
       {"transform":[{"filter":"datum.series == 'only'"}],"mark":{"type":"area","interpolate":"monotone","color":"#e8ecec","opacity":1}},
       {"mark":{"type":"line","interpolate":"monotone","strokeWidth":1.2},
        "encoding":{"stroke":{"field":"series","type":"nominal","scale":{"domain":["only","WT","TH"],"range":["#c2c8c7","#3a4fe6","#f2334d"]},"legend":null}}}
      ]},
     {"width":127,"height":128,"view":{"stroke":"#8c8c8c","strokeWidth":1},
      "title":{"text":["Fraction","Ly6G⁻Ly6Cʰⁱᵍʰ"],"font":"Lato","fontSize":13,"lineHeight":15,"frame":"group","anchor":"middle","dx":-5,"offset":5},
      "data":{"name":"hist"},
      "transform":[{"filter":"datum.panel == 'CD4 high'"},{"flatten":["x","y"]}],
      "encoding":{
       "x":{"field":"x","type":"quantitative","scale":{"domain":[1.87,5.24],"nice":false,"zero":false},"axis":{"values":[2,3,4,5],"labelExpr":"'10' + (datum.value == 2 ? '²' : datum.value == 3 ? '³' : datum.value == 4 ? '⁴' : '⁵')","title":null,"domain":false,"labelFontWeight":"normal","labelFontSize":5,"labelColor":"#333","tickSize":2,"tickWidth":0.6,"tickColor":"#555","labelPadding":1}},
       "y":{"field":"y","type":"quantitative","scale":{"domain":[-1,105],"nice":false,"zero":false},"axis":{"values":[0,20,40,60,80,100],"title":null,"domain":false,"labelFontWeight":"normal","labelFontSize":5,"labelColor":"#333","tickSize":2,"tickWidth":0.6,"tickColor":"#555","labelPadding":1}}
      },
      "layer":[
       {"transform":[{"filter":"datum.series == 'only'"}],"mark":{"type":"area","interpolate":"monotone","color":"#e8ecec","opacity":1}},
       {"mark":{"type":"line","interpolate":"monotone","strokeWidth":1.2},
        "encoding":{"stroke":{"field":"series","type":"nominal","scale":{"domain":["only","WT","TH"],"range":["#c2c8c7","#3a4fe6","#f2334d"]},
         "legend":{"orient":"none","legendX":137,"legendY":0,"title":null,"padding":0,"symbolType":"stroke","symbolStrokeWidth":4,"symbolSize":900,"labelFont":"Lato","labelFontSize":14,"labelFontWeight":"bold","labelColor":"black","labelLimit":300,"rowPadding":17,"labelOffset":7,"labelExpr":"datum.value == 'only' ? 'T cells only' : datum.value == 'WT' ? ['T cells + fraction', 'of WT spleen'] : ['T cells + fraction', 'of TH-MYCN', 'tumor']"}}}}
      ]}
    ]
   },
   {
    "title":{"text":"CD8","fontSize":17,"anchor":"middle","frame":"bounds","dx":-4,"offset":2},
    "bounds":"flush","spacing":29,
    "hconcat":[
     {"width":127,"height":128,"view":{"stroke":"#8c8c8c","strokeWidth":1},
      "title":{"text":["Fraction","Ly6G⁺Ly6Cˡᵒʷ"],"font":"Lato","fontSize":13,"lineHeight":15,"frame":"group","anchor":"middle","dx":0,"offset":10},
      "data":{"name":"hist"},
      "transform":[{"filter":"datum.panel == 'CD8 low'"},{"flatten":["x","y"]}],
      "encoding":{
       "x":{"field":"x","type":"quantitative","scale":{"domain":[1.83,5.36],"nice":false,"zero":false},"axis":{"values":[2,3,4,5],"labelExpr":"'10' + (datum.value == 2 ? '²' : datum.value == 3 ? '³' : datum.value == 4 ? '⁴' : '⁵')","title":null,"domain":false,"labelFontWeight":"normal","labelFontSize":5,"labelColor":"#333","tickSize":2,"tickWidth":0.6,"tickColor":"#555","labelPadding":1}},
       "y":{"field":"y","type":"quantitative","scale":{"domain":[-1,105],"nice":false,"zero":false},"axis":{"values":[0,20,40,60,80,100],"title":null,"domain":false,"labelFontWeight":"normal","labelFontSize":5,"labelColor":"#333","tickSize":2,"tickWidth":0.6,"tickColor":"#555","labelPadding":1}}
      },
      "layer":[
       {"transform":[{"filter":"datum.series == 'only'"}],"mark":{"type":"area","interpolate":"monotone","color":"#e8ecec","opacity":1}},
       {"mark":{"type":"line","interpolate":"monotone","strokeWidth":1.2},
        "encoding":{"stroke":{"field":"series","type":"nominal","scale":{"domain":["only","WT","TH"],"range":["#c2c8c7","#3a4fe6","#f2334d"]},"legend":null}}}
      ]},
     {"width":127,"height":128,"view":{"stroke":"#8c8c8c","strokeWidth":1},
      "title":{"text":["Fraction","Ly6Gg⁻Ly6Cʰⁱᵍʰ"],"font":"Lato","fontSize":13,"lineHeight":15,"frame":"group","anchor":"middle","dx":5,"offset":5},
      "data":{"name":"hist"},
      "transform":[{"filter":"datum.panel == 'CD8 high'"},{"flatten":["x","y"]}],
      "encoding":{
       "x":{"field":"x","type":"quantitative","scale":{"domain":[1.92,5.32],"nice":false,"zero":false},"axis":{"values":[2,3,4,5],"labelExpr":"'10' + (datum.value == 2 ? '²' : datum.value == 3 ? '³' : datum.value == 4 ? '⁴' : '⁵')","title":null,"domain":false,"labelFontWeight":"normal","labelFontSize":5,"labelColor":"#333","tickSize":2,"tickWidth":0.6,"tickColor":"#555","labelPadding":1}},
       "y":{"field":"y","type":"quantitative","scale":{"domain":[-1,105],"nice":false,"zero":false},"axis":{"values":[0,20,40,60,80,100],"title":null,"domain":false,"labelFontWeight":"normal","labelFontSize":5,"labelColor":"#333","tickSize":2,"tickWidth":0.6,"tickColor":"#555","labelPadding":1}}
      },
      "layer":[
       {"transform":[{"filter":"datum.series == 'only'"}],"mark":{"type":"area","interpolate":"monotone","color":"#e8ecec","opacity":1}},
       {"mark":{"type":"line","interpolate":"monotone","strokeWidth":1.2},
        "encoding":{"stroke":{"field":"series","type":"nominal","scale":{"domain":["only","WT","TH"],"range":["#c2c8c7","#3a4fe6","#f2334d"]},"legend":null}}}
      ]}
    ]
   }
  ]
 },
 {
  "title":{"text":"C","fontSize":17,"anchor":"start","frame":"bounds","dx":-12,"offset":17},
  "bounds":"flush","spacing":0,
  "hconcat":[
   {"width":91,"height":1,"data":{"values":[]},"mark":"point"},
   {
    "bounds":"flush","spacing":172,
    "hconcat":[
     {"width":183,"height":184,
      "title":{"text":"CD4","fontSize":17,"anchor":"start","frame":"bounds","dx":-13,"offset":-6},
      "layer":[
       {"data":{"name":"bars"},"transform":[{"filter":"datum.chart == 'CD4'"}],"mark":{"type":"bar","strokeWidth":3},
        "encoding":{
         "x":{"field":"cat","type":"nominal","title":null,"sort":null,"scale":{"type":"band","domain":["Activated T cell","Spleen | low","Tumor | low","Spleen | high","Tumor | high"],"paddingInner":0.5,"paddingOuter":0.42},"axis":{"labelExpr":"split(datum.value, ' | ')[0]","labelAngle":-90,"labelAlign":"right","labelBaseline":"middle","labelFont":"Lato","labelFontWeight":"normal","labelFontSize":12,"labelColor":"#222","tickSize":7,"tickWidth":2,"domainWidth":2,"labelPadding":4}},
         "y":{"field":"mean","type":"quantitative","title":"% proliferation","scale":{"domain":[0,130],"nice":false},"axis":{"values":[0,20,40,60,80,100,120],"titleFont":"Lato","titleFontWeight":"normal","titleFontSize":14,"titleColor":"#555","labelFontSize":13,"tickSize":6,"tickWidth":2,"domainWidth":2,"titlePadding":16}},
         "fill":{"field":"kind","type":"nominal","scale":{"domain":["Activated","Spleen","Tumor"],"range":["#d5dddc","#cde6f8","#fcd6e1"]},"legend":null},
         "stroke":{"field":"kind","type":"nominal","scale":{"domain":["Activated","Spleen","Tumor"],"range":["#7d8785","#2b4ae6","#f22a4a"]},"legend":null}}},
       {"data":{"name":"bars"},"transform":[{"filter":"datum.chart == 'CD4' && isValid(datum.lo)"}],"mark":{"type":"rule","strokeWidth":1.5,"opacity":0.7},
        "encoding":{"x":{"field":"cat","type":"nominal","title":null},"y":{"field":"lo","type":"quantitative","title":"% proliferation"},"y2":{"field":"hi"},"stroke":{"field":"kind","type":"nominal","legend":null}}},
       {"data":{"name":"bars"},"transform":[{"filter":"datum.chart == 'CD4' && isValid(datum.lo)"}],"mark":{"type":"tick","size":12,"thickness":1.5,"opacity":0.7},
        "encoding":{"x":{"field":"cat","type":"nominal","title":null},"y":{"field":"lo","type":"quantitative","title":"% proliferation"},"color":{"field":"kind","type":"nominal","scale":{"domain":["Activated","Spleen","Tumor"],"range":["#7d8785","#2b4ae6","#f22a4a"]},"legend":null}}},
       {"data":{"name":"bars"},"transform":[{"filter":"datum.chart == 'CD4' && isValid(datum.hi)"}],"mark":{"type":"tick","size":12,"thickness":1.5,"opacity":0.7},
        "encoding":{"x":{"field":"cat","type":"nominal","title":null},"y":{"field":"hi","type":"quantitative","title":"% proliferation"},"color":{"field":"kind","type":"nominal","legend":null}}},
       {"data":{"name":"bpts"},"transform":[{"filter":"datum.chart == 'CD4'"}],"mark":{"type":"point","filled":true,"size":60,"opacity":1},
        "encoding":{"x":{"field":"cat","type":"nominal","title":null},
         "xOffset":{"field":"col","type":"quantitative","scale":{"domain":[-1,1],"range":[-1.45,18.55]}},
         "y":{"field":"value","type":"quantitative","title":"% proliferation"},
         "color":{"field":"kind","type":"nominal","legend":null},
         "shape":{"field":"cat","type":"nominal","scale":{"domain":["Activated T cell","Spleen | low","Tumor | low","Spleen | high","Tumor | high"],"range":["circle","square","triangle-up","triangle-down","diamond"]},"legend":null}}},
       {"data":{"name":"bsig"},"transform":[{"filter":"datum.chart == 'CD4'"}],"mark":{"type":"rule","color":"#555","strokeWidth":1.2},
        "encoding":{"x":{"field":"from","type":"nominal","title":null},"x2":{"field":"to"},"y":{"field":"y","type":"quantitative","title":"% proliferation"}}},
       {"data":{"name":"bsig"},"transform":[{"filter":"datum.chart == 'CD4' && datum.pos == 'center'"}],"mark":{"type":"text","font":"Lato","fontSize":12,"baseline":"bottom","dy":1,"color":"#2b3566"},
        "encoding":{"x":{"field":"mid","type":"nominal","title":null,"bandPosition":0.5},"y":{"field":"y","type":"quantitative","title":"% proliferation"},"text":{"field":"label","type":"nominal"}}},
       {"data":{"name":"bsig"},"transform":[{"filter":"datum.chart == 'CD4' && datum.pos == 'gap'"}],"mark":{"type":"text","font":"Lato","fontSize":12,"baseline":"bottom","dy":-1,"color":"#2b3566"},
        "encoding":{"x":{"field":"mid","type":"nominal","title":null,"bandPosition":1.5},"y":{"field":"y","type":"quantitative","title":"% proliferation"},"text":{"field":"label","type":"nominal"}}},
       {"data":{"name":"grp"},"transform":[{"filter":"datum.chart == 'CD4'"}],"mark":{"type":"rule","color":"black","strokeWidth":2,"xOffset":-12,"x2Offset":10},
        "encoding":{"x":{"field":"from","type":"nominal","title":null},"x2":{"field":"to"},"y":{"datum":-39,"type":"quantitative"}}},
       {"data":{"name":"grp"},"transform":[{"filter":"datum.chart == 'CD4'"}],"mark":{"type":"text","font":"Lato","fontSize":12.5,"lineBreak":"\n","lineHeight":15,"baseline":"top","align":"center","color":"#222"},
        "encoding":{"x":{"field":"from","type":"nominal","title":null,"bandPosition":1.5},"y":{"datum":-42,"type":"quantitative"},"text":{"field":"text","type":"nominal"}}}
      ]},
     {"width":183,"height":184,
      "title":{"text":"CD8","fontSize":17,"anchor":"start","frame":"bounds","dx":-3,"offset":-16},
      "layer":[
       {"data":{"name":"bars"},"transform":[{"filter":"datum.chart == 'CD8'"}],"mark":{"type":"bar","strokeWidth":3},
        "encoding":{
         "x":{"field":"cat","type":"nominal","title":null,"sort":null,"scale":{"type":"band","domain":["Activated T cell","Spleen | low","Tumor | low","Spleen | high","Tumor | high"],"paddingInner":0.5,"paddingOuter":0.42},"axis":{"labelExpr":"split(datum.value, ' | ')[0]","labelAngle":-90,"labelAlign":"right","labelBaseline":"middle","labelFont":"Lato","labelFontWeight":"normal","labelFontSize":12,"labelColor":"#222","tickSize":7,"tickWidth":2,"domainWidth":2,"labelPadding":4}},
         "y":{"field":"mean","type":"quantitative","title":"% proliferation","scale":{"domain":[0,130],"nice":false},"axis":{"values":[0,20,40,60,80,100,120],"titleFont":"Lato","titleFontWeight":"normal","titleFontSize":14,"titleColor":"#555","labelFontSize":13,"tickSize":6,"tickWidth":2,"domainWidth":2,"titlePadding":16}},
         "fill":{"field":"kind","type":"nominal","scale":{"domain":["Activated","Spleen","Tumor"],"range":["#d5dddc","#cde6f8","#fcd6e1"]},"legend":null},
         "stroke":{"field":"kind","type":"nominal","scale":{"domain":["Activated","Spleen","Tumor"],"range":["#7d8785","#2b4ae6","#f22a4a"]},"legend":null}}},
       {"data":{"name":"bars"},"transform":[{"filter":"datum.chart == 'CD8' && isValid(datum.lo)"}],"mark":{"type":"rule","strokeWidth":1.5,"opacity":0.7},
        "encoding":{"x":{"field":"cat","type":"nominal","title":null},"y":{"field":"lo","type":"quantitative","title":"% proliferation"},"y2":{"field":"hi"},"stroke":{"field":"kind","type":"nominal","legend":null}}},
       {"data":{"name":"bars"},"transform":[{"filter":"datum.chart == 'CD8' && isValid(datum.lo)"}],"mark":{"type":"tick","size":12,"thickness":1.5,"opacity":0.7},
        "encoding":{"x":{"field":"cat","type":"nominal","title":null},"y":{"field":"lo","type":"quantitative","title":"% proliferation"},"color":{"field":"kind","type":"nominal","scale":{"domain":["Activated","Spleen","Tumor"],"range":["#7d8785","#2b4ae6","#f22a4a"]},"legend":null}}},
       {"data":{"name":"bars"},"transform":[{"filter":"datum.chart == 'CD8' && isValid(datum.hi)"}],"mark":{"type":"tick","size":12,"thickness":1.5,"opacity":0.7},
        "encoding":{"x":{"field":"cat","type":"nominal","title":null},"y":{"field":"hi","type":"quantitative","title":"% proliferation"},"color":{"field":"kind","type":"nominal","legend":null}}},
       {"data":{"name":"bpts"},"transform":[{"filter":"datum.chart == 'CD8'"}],"mark":{"type":"point","filled":true,"size":60,"opacity":1},
        "encoding":{"x":{"field":"cat","type":"nominal","title":null},
         "xOffset":{"field":"col","type":"quantitative","scale":{"domain":[-1,1],"range":[-1.45,18.55]}},
         "y":{"field":"value","type":"quantitative","title":"% proliferation"},
         "color":{"field":"kind","type":"nominal","legend":null},
         "shape":{"field":"cat","type":"nominal","scale":{"domain":["Activated T cell","Spleen | low","Tumor | low","Spleen | high","Tumor | high"],"range":["circle","square","triangle-up","triangle-down","diamond"]},"legend":null}}},
       {"data":{"name":"bsig"},"transform":[{"filter":"datum.chart == 'CD8'"}],"mark":{"type":"rule","color":"#555","strokeWidth":1.2},
        "encoding":{"x":{"field":"from","type":"nominal","title":null},"x2":{"field":"to"},"y":{"field":"y","type":"quantitative","title":"% proliferation"}}},
       {"data":{"name":"bsig"},"transform":[{"filter":"datum.chart == 'CD8' && datum.pos == 'center'"}],"mark":{"type":"text","font":"Lato","fontSize":12,"baseline":"bottom","dy":1,"color":"#2b3566"},
        "encoding":{"x":{"field":"mid","type":"nominal","title":null,"bandPosition":0.5},"y":{"field":"y","type":"quantitative","title":"% proliferation"},"text":{"field":"label","type":"nominal"}}},
       {"data":{"name":"bsig"},"transform":[{"filter":"datum.chart == 'CD8' && datum.pos == 'gap'"}],"mark":{"type":"text","font":"Lato","fontSize":12,"baseline":"bottom","dy":-1,"color":"#2b3566"},
        "encoding":{"x":{"field":"mid","type":"nominal","title":null,"bandPosition":1.5},"y":{"field":"y","type":"quantitative","title":"% proliferation"},"text":{"field":"label","type":"nominal"}}},
       {"data":{"name":"grp"},"transform":[{"filter":"datum.chart == 'CD8'"}],"mark":{"type":"rule","color":"black","strokeWidth":2,"xOffset":-12,"x2Offset":10},
        "encoding":{"x":{"field":"from","type":"nominal","title":null},"x2":{"field":"to"},"y":{"datum":-39,"type":"quantitative"}}},
       {"data":{"name":"grp"},"transform":[{"filter":"datum.chart == 'CD8'"}],"mark":{"type":"text","font":"Lato","fontSize":12.5,"lineBreak":"\n","lineHeight":15,"baseline":"top","align":"center","color":"#222"},
        "encoding":{"x":{"field":"from","type":"nominal","title":null,"bandPosition":1.5},"y":{"datum":-42,"type":"quantitative"},"text":{"field":"text","type":"nominal"}}}
      ]}
    ]
   }
  ]
 }
 ]
}
]
}
